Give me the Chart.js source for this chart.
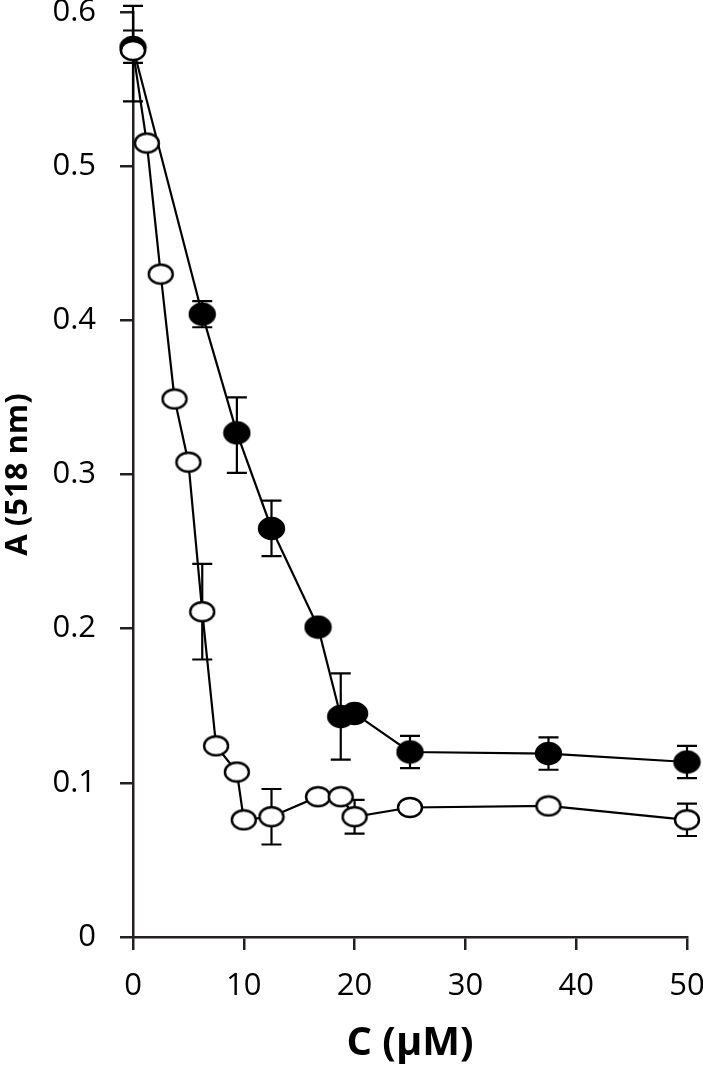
<!DOCTYPE html>
<html>
<head>
<meta charset="utf-8">
<script src="https://cdn.jsdelivr.net/npm/chart.js@4.4.0/dist/chart.umd.min.js"></script>
<style>
  body { margin: 0; background: #fff; }
  #wrap { width: 703px; height: 1068px; }
</style>
</head>
<body>
<div id="wrap"><canvas id="chart" width="703" height="1068"></canvas></div>
<script>
// open circles
const openX = [0, 1.25, 2.5, 3.75, 5, 6.25, 7.5, 9.375, 10, 12.5, 16.7, 18.75, 20, 25, 37.5, 50];
const openY = [0.575, 0.515, 0.430, 0.349, 0.308, 0.211, 0.124, 0.107, 0.076, 0.078, 0.091, 0.091, 0.078, 0.084, 0.085, 0.076];
const openErrHi = [0.013, 0, 0, 0, 0, 0.031, 0, 0, 0, 0.018, 0, 0, 0.011, 0, 0, 0.0105];
const openErrLo = [0.008, 0, 0, 0, 0, 0.031, 0, 0, 0, 0.018, 0, 0, 0.011, 0, 0, 0.0105];

// filled circles
const filledX = [0, 6.25, 9.375, 12.5, 16.7, 18.75, 20, 25, 37.5, 50];
const filledY = [0.577, 0.404, 0.327, 0.265, 0.201, 0.143, 0.145, 0.120, 0.119, 0.1135];
const filledErrHi = [0.027, 0.0085, 0.023, 0.018, 0, 0.028, 0, 0.0105, 0.0105, 0.0105];
const filledErrLo = [0.035, 0.0085, 0.026, 0.018, 0, 0.028, 0, 0.0105, 0.0105, 0.0105];

const xTicks = [0, 10, 20, 30, 40, 50];
const yTicks = [0, 0.1, 0.2, 0.3, 0.4, 0.5, 0.6];

const ink = '#231f20';

// ellipse markers as little canvases
function ellipse(w, h, fill) {
    const c = document.createElement('canvas');
    c.width = w + 4; c.height = h + 4;
    const g = c.getContext('2d');
    g.beginPath();
    g.ellipse(c.width / 2, c.height / 2, w / 2, h / 2, 0, 0, Math.PI * 2);
    g.fillStyle = fill;
    g.fill();
    g.lineWidth = 2.4;
    g.strokeStyle = '#000';
    g.stroke();
    return c;
}
const openMark = ellipse(24, 19, '#fff');
const filledMark = ellipse(25, 21, '#000');

const toPts = (xs, ys) => xs.map((x, i) => ({ x: x, y: ys[i] }));

const errorBars = {
    id: 'errorBars',
    beforeDatasetsDraw(chart) {
        const { ctx, scales: { x, y } } = chart;
        const sets = [[openX, openY, openErrHi, openErrLo], [filledX, filledY, filledErrHi, filledErrLo]];
        ctx.save();
        ctx.strokeStyle = '#000';
        ctx.lineWidth = 2.2;
        sets.forEach(([xs, ys, hi, lo]) => {
            xs.forEach((xv, i) => {
                if (!hi[i] && !lo[i]) return;
                const px = x.getPixelForValue(xv);
                const top = y.getPixelForValue(ys[i] + hi[i]);
                const bot = y.getPixelForValue(ys[i] - lo[i]);
                ctx.beginPath();
                ctx.moveTo(px, top); ctx.lineTo(px, bot);
                ctx.moveTo(px - 10, top); ctx.lineTo(px + 10, top);
                ctx.moveTo(px - 10, bot); ctx.lineTo(px + 10, bot);
                ctx.stroke();
            });
        });
        ctx.restore();
    }
};

new Chart(document.getElementById('chart').getContext('2d'), {
    type: 'scatter',
    data: {
        datasets: [{
            data: toPts(openX, openY),
            showLine: true,
            borderColor: '#000',
            borderWidth: 2.2,
            pointStyle: openMark,
            clip: false
        }, {
            data: toPts(filledX, filledY),
            showLine: true,
            borderColor: '#000',
            borderWidth: 2.2,
            pointStyle: filledMark,
            clip: false
        }]
    },
    options: {
        responsive: false,
        animation: false,
        layout: { padding: { top: 12, right: 16, left: 0, bottom: 0 } },
        plugins: { legend: { display: false }, tooltip: { enabled: false } },
        scales: {
            x: {
                type: 'linear',
                min: 0, max: 50,
                afterFit: s => { s.height = 131; s.paddingLeft = 0; s.paddingRight = 0; },
                afterBuildTicks: s => { s.ticks = xTicks.map(v => ({ value: v })); },
                grid: { drawOnChartArea: false, drawTicks: true, tickLength: 13, color: ink, lineWidth: 2.5 },
                border: { display: true, color: ink, width: 2.5 },
                ticks: { padding: 18, color: '#000', font: { family: 'Open Sans', size: 31 } },
                title: { display: true, text: 'C (µM)', color: '#000', padding: 0,
                    font: { family: 'Open Sans', size: 40, weight: 'bold' } }
            },
            y: {
                min: 0, max: 0.6,
                afterFit: s => { s.width = 133; s.paddingTop = 0; s.paddingBottom = 0; },
                afterBuildTicks: s => { s.ticks = yTicks.map(v => ({ value: v })); },
                grid: { drawOnChartArea: false, drawTicks: true, tickLength: 13, color: ink, lineWidth: 2.5 },
                border: { display: true, color: ink, width: 2.5 },
                ticks: { padding: 24, color: '#000', font: { family: 'Open Sans', size: 31 },
                    callback: v => String(Math.round(v * 10) / 10) },
                title: { display: true, text: 'A (518 nm)', color: '#000', padding: 0,
                    font: { family: 'Open Sans', size: 31, weight: 'bold' } }
            }
        }
    },
    plugins: [errorBars]
});
</script>
</body>
</html>
